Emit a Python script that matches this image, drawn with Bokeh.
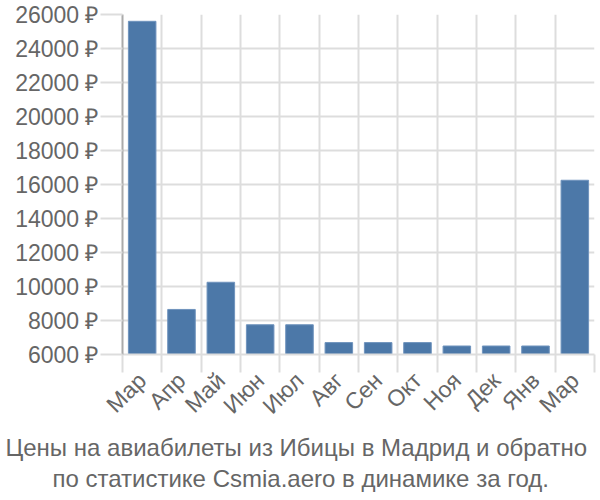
import math
from bokeh.plotting import figure
from bokeh.models import FixedTicker, Title, Range1d, ColumnDataSource
from bokeh.embed import file_html
from bokeh.resources import INLINE

months = ["Мар", "Апр", "Май", "Июн", "Июл", "Авг", "Сен", "Окт", "Ноя", "Дек", "Янв", "Мар"]
prices = [25600, 8650, 10250, 7750, 7750, 6700, 6700, 6700, 6500, 6500, 6500, 16250]
y_ticks = [6000, 8000, 10000, 12000, 14000, 16000, 18000, 20000, 22000, 24000, 26000]
title_lines = ["Цены на авиабилеты из Ибицы в Мадрид и обратно",
               "по статистике Csmia.aero в динамике за год."]

n = len(months)
centers = [i + 0.5 for i in range(n)]
bounds = list(range(n + 1))

src = ColumnDataSource(dict(x=centers, top=prices))

p = figure(width=600, height=500, output_backend="svg", toolbar_location=None,
           x_range=Range1d(0, n), y_range=Range1d(6000, 26000),
           min_border_left=122, min_border_right=6, min_border_top=14, min_border_bottom=146)
p.outline_line_color = None
p.background_fill_color = "white"
p.border_fill_color = "white"

p.vbar(x="x", top="top", bottom=6000, width=0.7, source=src,
       fill_color="#4c78a8", line_color="#6f93bd", line_width=1)

FONT = "Liberation Sans"
TXT = "#666666"
GRID = "#dddddd"

# x axis
xa = p.xaxis[0]
xa.ticker = FixedTicker(ticks=centers, minor_ticks=bounds)
xa.major_label_overrides = {c: m for c, m in zip(centers, months)}
xa.major_label_orientation = math.pi / 4
xa.major_tick_line_color = None
xa.minor_tick_line_color = GRID
xa.minor_tick_line_width = 2
xa.minor_tick_out = 18
xa.minor_tick_in = 0
xa.axis_line_color = GRID
xa.axis_line_width = 2
xa.major_label_text_font = FONT
xa.major_label_text_font_size = "23px"
xa.major_label_text_color = TXT
xa.major_label_standoff = 4

# y axis
ya = p.yaxis[0]
ya.ticker = FixedTicker(ticks=y_ticks)
ya.major_label_overrides = {t: f"{t} ₽" for t in y_ticks}
ya.major_tick_line_color = GRID
ya.major_tick_line_width = 2
ya.major_tick_out = 22
ya.major_tick_in = 0
ya.minor_tick_line_color = None
ya.axis_line_color = "#aaaaaa"
ya.axis_line_width = 2
ya.major_label_text_font = FONT
ya.major_label_text_font_size = "23px"
ya.major_label_text_color = TXT
ya.major_label_standoff = 2

p.xgrid.ticker = FixedTicker(ticks=bounds)
p.xgrid.grid_line_color = GRID
p.xgrid.grid_line_width = 2
p.ygrid.ticker = FixedTicker(ticks=y_ticks)
p.ygrid.grid_line_color = GRID
p.ygrid.grid_line_width = 2

offsets = [-117, -70]
for line, off in zip(title_lines, offsets):
    t = Title(text=line, align="left", offset=off, text_font=FONT, text_font_size="24px",
              text_color=TXT, text_font_style="normal", standoff=2)
    p.add_layout(t, "below")

open("out.html", "w").write(file_html(p, INLINE))
